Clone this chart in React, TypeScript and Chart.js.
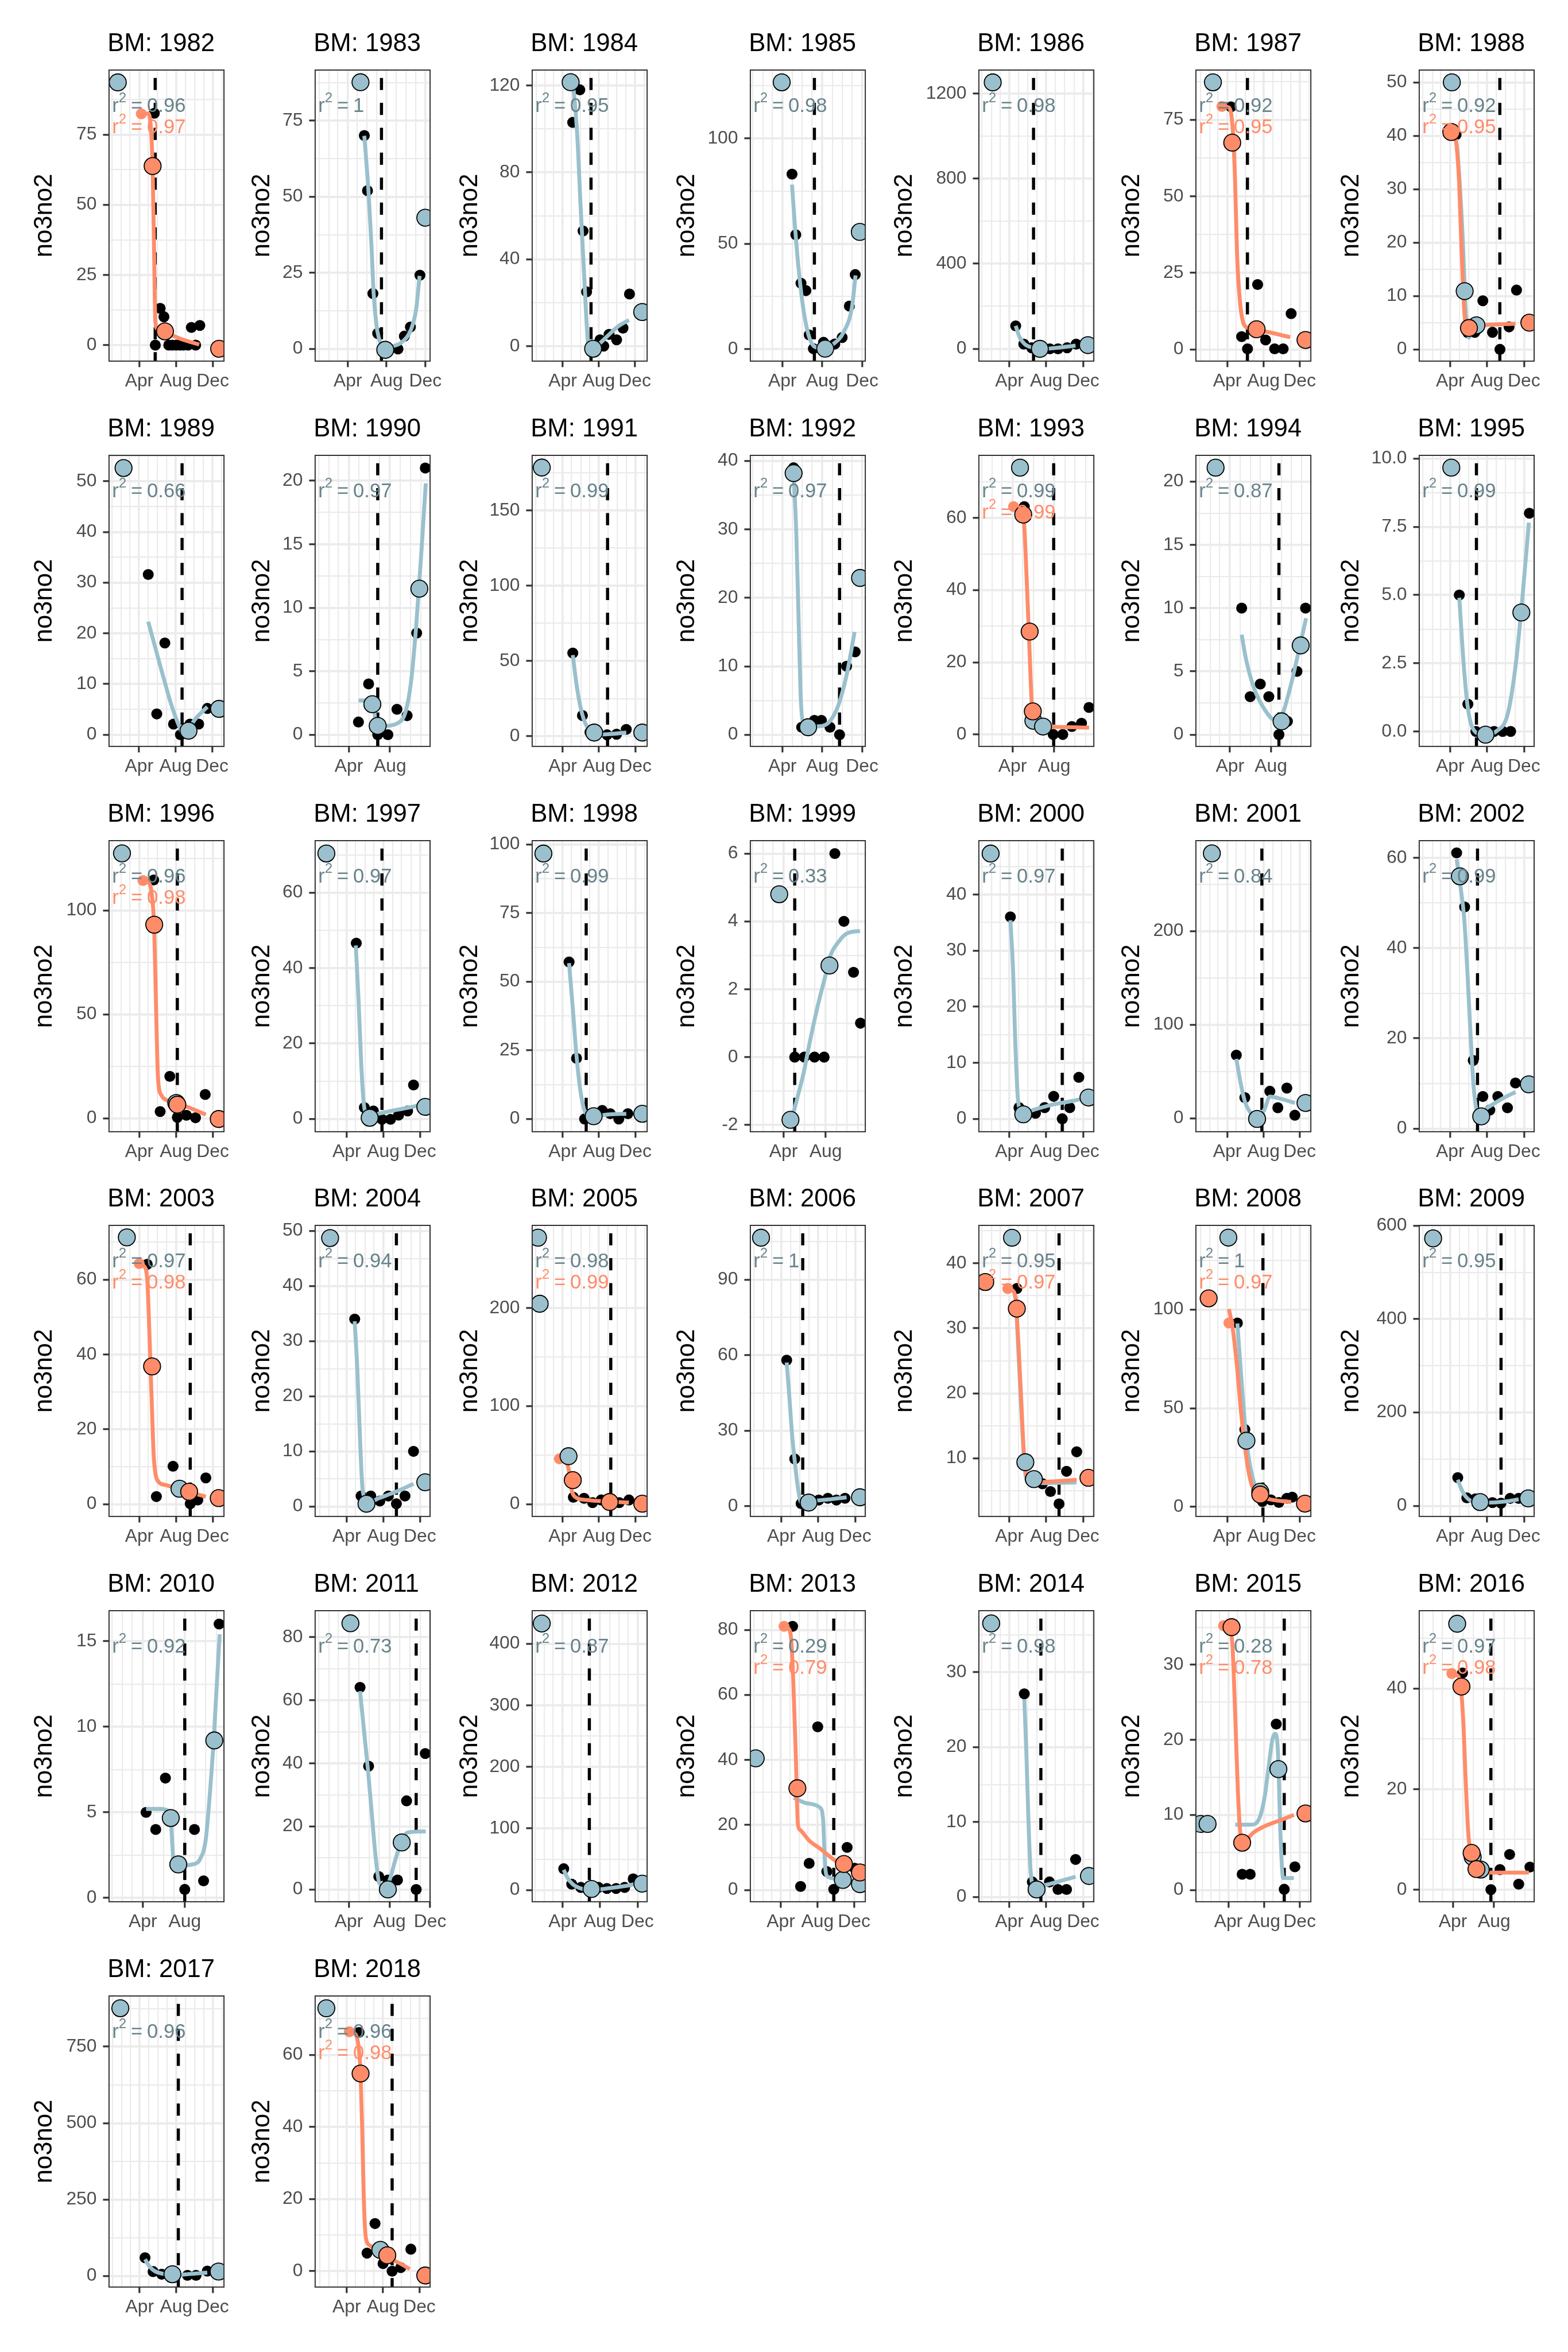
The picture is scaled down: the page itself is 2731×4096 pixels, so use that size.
import React, { useEffect, useRef } from "react";
import { Chart, registerables } from "chart.js";

Chart.register(...registerables);

const S = 0.91;
const FONT = "'Liberation Sans', Arial, Helvetica, sans-serif";
const BLUE = "#9AC0CD";
const BLUE_TEXT = "#68838B";
const ORANGE = "#FF8C69";
const GRID = "#EBEBEB";
const DARK = "#333333";
const TICK_TEXT = "#4D4D4D";

// ---------------- data ----------------
const YEARS = [1982, 1983, 1984, 1985, 1986, 1987, 1988, 1989, 1990, 1991, 1992, 1993, 1994, 1995, 1996, 1997, 1998, 1999, 2000, 2001, 2002, 2003, 2004, 2005, 2006, 2007, 2008, 2009, 2010, 2011, 2012, 2013, 2014, 2015, 2016, 2017, 2018];

const R2_BLUE = ["0.96", "1", "0.95", "0.98", "0.98", "0.92", "0.92", "0.66", "0.97", "0.99", "0.97", "0.99", "0.87", "0.99", "0.96", "0.97", "0.99", "0.33", "0.97", "0.84", "0.99", "0.97", "0.94", "0.98", "1", "0.95", "1", "0.95", "0.92", "0.73", "0.87", "0.29", "0.98", "0.28", "0.97", "0.96", "0.96"];
const R2_ORANGE = ["0.97", null, null, null, null, "0.95", "0.95", null, null, null, null, "0.99", null, null, "0.98", null, null, null, null, null, null, "0.98", null, "0.99", null, "0.97", "0.97", null, null, null, null, "0.79", null, "0.78", "0.98", null, "0.98"];

// day of year of the dashed line
const VLINE = [143, 196, 186, 188, 170, 158, 254, 233.5, 175.6, 240.7, 265, 210.4, 235.8, 176.6, 216.4, 207.5, 169, 122.4, 265, 206.6, 180.2, 259.2, 255.6, 251.5, 160.7, 254.4, 210.2, 258, 212, 292.2, 177.1, 266.3, 194.3, 281.2, 202.5, 219.2, 242.5];

const X_RANGE = [[-10, 371], [-12.7, 349], [-13, 375.6], [-8, 343.8], [-10.8, 369.4], [-15.8, 371.7], [-12.5, 367.6], [-10.5, 373.5], [-9.8, 330.8], [-12.3, 373.5], [-8, 343.8], [-8.5, 327.8], [-11.4, 330.8], [-12.5, 367.6], [-10, 371], [-15, 367.8], [-12.3, 373.5], [-5.8, 326.3], [-10.8, 369.4], [-15.8, 371.7], [-12.5, 367.6], [-10, 371], [-15, 367.8], [-12.3, 373.5], [-12.5, 367.6], [-10.8, 369.4], [-15.8, 371.7], [-12.5, 367.6], [-8.5, 326.2], [-11.1, 334], [-9.3, 365.4], [-11.5, 371.4], [-10.8, 369.4], [-21, 372.2], [-9.8, 330.8], [-12.3, 371.7], [-15.8, 369.9]];

const Y_RANGE = [[-5.7, 98], [-4.0, 91.6], [-6.9, 127.1], [-5.6, 132.3], [-57.6, 1310], [-3.8, 91.2], [-2.2, 52.3], [-2.3, 55.1], [-0.92, 22], [-6.7, 186.5], [-1.7, 40.8], [-3.3, 77.3], [-0.93, 22.07], [-0.55, 10.12], [-6.4, 133.5], [-3.4, 73.8], [-4.65, 101.4], [-2.2, 6.38], [-2.3, 49.6], [-14.2, 296.6], [-0.7, 63.8], [-3.3, 74.5], [-1.8, 51], [-12.5, 284.2], [-4.0, 111.5], [1.07, 45.8], [-4.9, 142.7], [-22.8, 600.6], [-0.22, 16.78], [-3.9, 88.4], [-19, 453.7], [-3.6, 85.9], [-0.64, 38.2], [-1.56, 37.2], [-2.4, 55.5], [-36.7, 916], [-4.4, 76.3]];

const Y_TICKS = [[0, 25, 50, 75], [0, 25, 50, 75], [0, 40, 80, 120], [0, 50, 100], [0, 400, 800, 1200], [0, 25, 50, 75], [0, 10, 20, 30, 40, 50], [0, 10, 20, 30, 40, 50], [0, 5, 10, 15, 20], [0, 50, 100, 150], [0, 10, 20, 30, 40], [0, 20, 40, 60], [0, 5, 10, 15, 20], [0, 2.5, 5, 7.5, 10], [0, 50, 100], [0, 20, 40, 60], [0, 25, 50, 75, 100], [-2, 0, 2, 4, 6], [0, 10, 20, 30, 40], [0, 100, 200], [0, 20, 40, 60], [0, 20, 40, 60], [0, 10, 20, 30, 40, 50], [0, 100, 200], [0, 30, 60, 90], [10, 20, 30, 40], [0, 50, 100], [0, 200, 400, 600], [0, 5, 10, 15], [0, 20, 40, 60, 80], [0, 100, 200, 300, 400], [0, 20, 40, 60, 80], [0, 10, 20, 30], [0, 10, 20, 30], [0, 20, 40], [0, 250, 500, 750], [0, 20, 40, 60]];

const MONTH_STARTS = [0, 31, 59, 90, 120, 151, 181, 212, 243, 273, 304, 334, 365];
const MONTH_LABELS: Record<number, string> = { 90: "Apr", 212: "Aug", 334: "Dec" };

// black observations [day, no3no2]
const BLACK = [
  [[140, 82.6], [159.5, 13.1], [172, 10.1], [143.4, 0], [188, 0], [200, 0], [213, 0], [225, 0], [236, 0], [252, 0], [277, 0], [263, 6.3], [291, 7.0]],
  [[142, 70.1], [152, 52], [169, 18.2], [184, 5.1], [208, 0], [248, 0], [268, 4.2], [287, 7.2], [317, 24.2]],
  [[148, 118], [124, 103], [159, 53], [171, 25], [216.5, 2.9], [229, 0], [247, 5.4], [272.5, 2.9], [294, 8.3], [316, 24]],
  [[119.5, 83], [131, 54.3], [147, 31.3], [162, 27.8], [172, 6.8], [185, 0.3], [216, 3.3], [250.5, 2.5], [273, 5.6], [295, 20.5], [313, 35.4]],
  [[111, 108], [138, 22.5], [164, 5], [194, 0], [224, 0], [251, 0], [281, 5], [311, 22.5]],
  [[102.6, 79.2], [138.4, 4.2], [158.2, 0.2], [192.3, 21.2], [219.2, 3.1], [249.7, 0.2], [278.4, 0.2], [305.3, 11.7]],
  [[109.4, 40.2], [148.3, 3.1], [171.3, 3.2], [197.8, 9.1], [229.7, 3.2], [254.4, 0], [284.5, 4.2], [309.2, 11.1]],
  [[120.5, 31.6], [149, 4.1], [176, 18.1], [205, 2.1], [228, 0], [260, 2.1], [289, 2.1], [318, 5.2]],
  [[118.5, 1.0], [148.6, 4.0], [175.6, 0], [205.7, 0], [232.6, 2.0], [262.7, 1.5], [291, 8.0], [316.6, 21.0]],
  [[124, 55.3], [156.4, 13.8], [181.5, 2.8], [239, 1], [271, 1.4], [303.5, 4.6]],
  [[124.4, 39], [149, 1.1], [188, 2.1], [209.5, 2.1], [235.7, 1.1], [265, 0], [286.5, 10], [312.7, 12.1]],
  [[124.4, 63.1], [151, 3.8], [209, 0], [237, 0], [263.6, 2.2], [291.8, 3.1], [313.7, 7.5]],
  [[124.9, 10], [150.2, 3.0], [180.3, 4.0], [205.7, 3.0], [235.8, 0], [261.1, 1.05], [289.6, 5], [315, 10]],
  [[120, 5.0], [148.3, 1.0], [174.8, 0], [235, 0], [263.3, 0], [289.8, 0], [351.7, 8.0]],
  [[138, 114.6], [159.5, 3.3], [191.5, 20.2], [216.4, 0.5], [246.5, 1.5], [276.7, 0.3], [308.8, 11.5]],
  [[122, 46.6], [148.8, 3.0], [179, 2.1], [207.5, -0.1], [236, -0.1], [262.8, 1.0], [293, 2.1], [312.6, 9.0]],
  [[111.5, 57.2], [136.6, 22.1], [163.6, 0], [222.8, 3.1], [249.7, 1.9], [278.4, 0], [308.9, 1.9]],
  [[122.4, 0], [150.2, 0], [179.6, 0], [207.4, 0], [238.3, 6.0], [264.5, 4.0], [292.3, 2.5], [312.4, 1.0]],
  [[93.5, 36], [121.8, 2.0], [176.6, 1.0], [206.7, 2.0], [236.7, 4.0], [265, 0], [289.8, 2.0], [319.8, 7.4]],
  [[120.5, 67.6], [149.2, 22.2], [233.5, 29], [260.4, 11.4], [290.8, 32.4], [317.8, 3.4]],
  [[111.2, 61.1], [137.7, 49.1], [166, 15.1], [197.8, 7.1], [220.8, 4.1], [247.4, 7.1], [279.2, 4.6], [305.7, 10.1]],
  [[116.7, 64.1], [147, 2.0], [202.2, 10.1], [259.2, 0.1], [284.1, 1.1], [310.9, 7.0]],
  [[116.7, 34], [138.1, 1.9], [170.1, 1.9], [200.4, 1], [228.9, 1.9], [255.6, 0.5], [284.1, 1.9], [312.6, 10]],
  [[125.9, 7.1], [161.8, 6], [190.5, 1.6], [219.2, 4.3], [251.5, 4.3], [280.2, 1.6], [312.5, 4.3]],
  [[107.7, 58], [134.2, 18.8], [155.4, 1.1], [213.8, 2.5], [243.8, 3.2], [272.1, 2.5], [300.4, 3.2]],
  [[114.8, 36.1], [199.6, 6.1], [226.1, 4.9], [254.4, 3.0], [279.2, 8.0], [312.8, 11]],
  [[124.1, 93.2], [149.2, 39.2], [208.4, 2.7], [237.1, 3.5], [264, 2.2], [290.8, 4.3], [308.9, 4.9]],
  [[114.8, 60.3], [144.8, 17], [173.1, 14.8], [229.7, 6.8], [258, 5.7], [288, 15.9], [316.3, 15.9]],
  [[99.4, 5.0], [127.5, 4.0], [155.7, 7.0], [212, 0.5], [240.2, 4.0], [266.8, 1.0], [312.1, 16.0]],
  [[123.7, 64.1], [149.4, 39.1], [179.9, 4.1], [207.2, 3.0], [236.1, 3.0], [263.4, 28.1], [292.2, 0], [319.5, 43.1]],
  [[93.5, 34.6], [119.6, 9.5], [149.3, 4.3], [206.8, 4.3], [234.4, 2.6], [264.3, 2.6], [292.1, 4.3], [320, 18.2]],
  [[129.2, 81.1], [155.9, 1.1], [184.4, 8.2], [212.9, 50.2], [243.2, 5.7], [266.3, 0.2], [310.8, 13.1], [335.8, 6.7]],
  [[139.5, 27.1], [166, 2.0], [222.6, 2.0], [250.9, 1.0], [279.2, 1.0], [309.2, 5.0]],
  [[137.3, 2.1], [164.7, 2.1], [253.9, 22.1], [281.2, 0.1], [317.6, 3.1]],
  [[118.5, 43.1], [202.5, 0], [229.4, 4.0], [258, 7.0], [284.9, 1.1], [318.2, 4.5]],
  [[107.9, 59.4], [134.9, 14], [163.6, 5.2], [249.7, 1.7], [278.4, 1.7], [316, 15.7]],
  [[131.3, 66.2], [158.2, 5], [185.1, 13.2], [212, 2.1], [242.5, 0], [271.2, 1.0], [305.3, 6.1]],
];

// large blue markers
const BLUE_BIG = [
  [[19, 93.6]],
  [[130, 87.6], [208, -0.3], [334, 43.1]],
  [[117, 121.5], [193, -1.2], [359, 15.7]],
  [[88, 126.5], [221, 0.3], [327, 55.6]],
  [[35, 1252], [191, 0], [350, 17.5]],
  [[41.6, 87.2]],
  [[95.3, 50], [137.7, 10.9], [176.6, 4.5]],
  [[38, 52.6], [255, 0.8], [357, 5.1]],
  [[159.7, 2.4], [175.6, 0.7], [299, 11.5]],
  [[20, 178.4], [195.8, 2.5], [357.3, 2.5]],
  [[124.4, 38.2], [168.8, 1.1], [327.7, 22.9]],
  [[111.9, 73.9], [151, 3.8], [179.2, 2.2]],
  [[47.2, 21.1], [243.7, 1.05], [300.7, 7.05]],
  [[93.5, 9.67], [206.7, -0.12], [325.2, 4.36]],
  [[33, 127.4], [212.9, 7.4]],
  [[22.3, 70.4], [166.6, 0.3], [351.8, 3.2]],
  [[25.4, 96.7], [194.1, 1.0], [357.3, 1.9]],
  [[77.6, 4.8], [110.1, -1.85], [222.8, 2.7]],
  [[28.1, 47.3], [136, 0.8], [351.7, 3.8]],
  [[38, 283], [190.5, -0.6], [353.7, 16.5]],
  [[121.8, 55.9], [192.5, 2.7], [349.9, 9.8]],
  [[49, 71.3], [223.6, 4.1]],
  [[34.8, 48.7], [155.9, 0.5], [351.8, 4.4]],
  [[7.3, 271.7], [12.9, 204.3], [109.7, 48.9]],
  [[22.8, 106.6], [180.2, 1.5], [349.9, 3.6]],
  [[98.8, 43.9], [143, 9.4], [171.3, 6.8]],
  [[93.6, 136.5], [154.6, 33.5], [201.2, 7.6]],
  [[33.4, 572.7], [189, 8], [348.1, 15.9]],
  [[171.3, 4.67], [193.2, 1.96], [298, 9.2]],
  [[94.8, 84.4], [207.2, 0], [248.9, 14.9]],
  [[22, 432.9], [184.1, 1.7], [349.7, 10.4]],
  [[6.3, 40.5], [296.6, 3.1], [353.6, 1.8]],
  [[29.9, 36.5], [180.2, 1.0], [353.4, 2.8]],
  [[-4.7, 8.8], [19, 8.8], [261.2, 16.1]],
  [[102.7, 52.9], [148.6, 6.5], [172.4, 4.0]],
  [[25.4, 875.9], [199.4, 5.2], [353.7, 14]],
  [[21.8, 72.9], [203, 5.9]],
];

// large orange markers
const ORANGE_BIG = [
  [[134.5, 63.8], [175.5, 4.9], [355, -1.3]], [], [], [], [],
  [[106.7, 67.5], [188.7, 6.6], [353.7, 3.1]],
  [[93.5, 40.7], [151.9, 4], [351.7, 5]], [], [], [], [],
  [[121.3, 60.9], [140.1, 28.5], [149.4, 6.4]], [], [],
  [[139.8, 93.1], [216.4, 6.6], [353.6, -0.3]], [], [], [], [], [], [],
  [[132.7, 36.8], [255.6, 3.3], [353.6, 1.6]], [],
  [[124, 24.5], [247.9, 2.2], [357.3, 0.5]], [],
  [[10.4, 37.1], [114.8, 33], [351.7, 7.0]],
  [[27.2, 105.7], [201.2, 6.2], [351.9, 1.6]], [], [], [], [],
  [[145.2, 31.3], [300.2, 8.0], [353.6, 5.4]], [],
  [[100.9, 35], [137.3, 6.3], [354, 10.2]],
  [[115.3, 40.4], [145.5, 7.3], [159.7, 4.1]], [],
  [[136.6, 54.8], [226.3, 4.4], [353.7, -1.2]],
];

// small orange start points
const ORANGE_DOT = [
  [[97, 82.4]], [], [], [], [], [[72, 79.3]], [], [], [], [], [], [[93.1, 63.1]], [], [], [[102.5, 114.3]], [], [], [], [], [], [], [[90, 64.3]], [], [[79.2, 46.2]], [], [[84.7, 36.1]], [[95.4, 93.2]], [], [], [], [], [[100.7, 81.1]], [], [[73.6, 35.2]], [[86.8, 43]], [], [[99, 66.4]],
];

// blue fitted curves
const BLUE_FIT = [
  [],
  [[142, 70], [155, 52], [164, 35], [171.5, 18], [180, 8], [188, 3.5], [200, 0.5], [209, -0.1], [230, 0.8], [261, 2.3], [289, 6.4], [305, 13], [316, 24]],
  [[126, 120], [139, 98], [151, 63.6], [164, 29.2], [175, 2.2], [182, -1.5], [206, 0.2], [242, 4.7], [278, 9.1], [314, 12]],
  [[119.5, 78], [128, 59.3], [137.5, 41.7], [152, 21.5], [168.6, 7.6], [188, 1.3], [213, 0.5], [246, 2.5], [278, 8.3], [303, 20], [314, 35]],
  [[111, 108], [124, 55], [141, 22.5], [168, 5], [194, 0], [247, 5], [309, 15]],
  [],
  [[97, 40.5], [111, 38.4], [129, 23.5], [143, 5.5], [152, 2.2], [164, 4], [254, 4.7]],
  [[120.5, 22.3], [142, 17.6], [169, 11.8], [196, 6.2], [223, 1.8], [235, 0.4], [258.6, 1.6], [282, 3.4], [318, 5.5]],
  [[118.5, 2.7], [147, 2.7], [163, 2.4], [171, 0.7], [195, 0.7], [234, 0.9], [258, 1.8], [274, 4.1], [290, 8.7], [305.5, 14.6], [318, 19.8]],
  [[124, 53.9], [138.4, 31.9], [156.4, 14.2], [178, 4.3], [205, 1.1], [240.7, 1.4], [303.5, 2.5]],
  [[124.4, 38.2], [132.6, 29.4], [139.2, 17.7], [145.7, 6], [154, 1.6], [180, 1.2], [213, 1.3], [237.5, 2.1], [262, 4.4], [286.5, 8.7], [311, 15]],
  [],
  [[124.9, 7.9], [137.5, 6], [161.3, 3.7], [193, 2], [221.5, 1.2], [240.5, 1.35], [264.3, 3.2], [288, 5.8], [316.6, 9.2]],
  [[120, 4.9], [132.4, 2.76], [146.6, 1.0], [164.3, 0.12], [199.6, -0.12], [243.8, 0.02], [279.2, 0.6], [305.7, 2.37], [327, 4.7], [350, 7.65]],
  [],
  [[120.3, 46], [129.2, 32.2], [138.1, 15.2], [147, 4], [161.2, 0.8], [196.8, 1.4], [250.3, 2.3], [303.7, 3.1], [351.8, 4]],
  [[111.5, 56.8], [124, 40.3], [136.6, 22.9], [150.9, 9.3], [169, 1.9], [194.1, 1.0], [240.7, 1.6], [303.5, 1.9]],
  [[110, -1.8], [119.3, -1.6], [133.2, -1.07], [148.7, -0.44], [164.1, 0.35], [187.3, 1.44], [210.5, 2.38], [225.9, 3.0], [249.1, 3.4], [272.2, 3.64], [310.9, 3.72]],
  [[93.5, 35.4], [102.4, 26.4], [109.4, 14], [118.3, 3.6], [132.4, 1.0], [176.6, 1.7], [229.7, 2.5], [300.4, 3.2], [351.7, 3.8]],
  [[120.5, 63.6], [134.9, 38], [149.2, 18.2], [170.7, 5.1], [194, 1.1], [215.6, 9.7], [233.5, 23.3], [269.4, 21], [317.8, 16.5]],
  [[111.2, 59.7], [123.6, 53.8], [136, 46.7], [146.6, 34.9], [157.2, 20.8], [167.8, 9], [182, 3.3], [217.3, 4.8], [261.5, 6.6], [305.7, 8.1]],
  [],
  [[116.7, 33.6], [125.6, 24.7], [134.5, 12.1], [143.4, 2.9], [161.2, 0.7], [196.8, 1.5], [250.3, 2.6], [312.6, 4.1]],
  [],
  [[107.7, 57.1], [116.5, 43.4], [125.4, 28.6], [134.2, 18], [144.8, 7.4], [155.4, 1.5], [190.8, 2.1], [243.8, 2.7], [305.7, 3.6]],
  [[111, 35], [130, 17], [140, 9], [150, 6.3], [200, 6.2], [312, 6.3]],
  [[124, 93], [140, 60], [155, 33], [175, 15], [200, 7], [230, 4]],
  [[114.8, 55.8], [128.9, 33], [146.6, 15.9], [173.1, 8], [217.3, 6.8], [270.3, 9.1], [316.3, 13.7]],
  [[99.4, 5.2], [140, 5.2], [163.5, 5.1], [171.3, 4.5], [180.7, 2.0], [202.6, 1.9], [233.9, 1.96], [257.4, 2.3], [273, 3.4], [285.5, 6.2], [296.5, 9.3], [305.9, 12.7], [313.7, 15.4]],
  [[123.7, 62.9], [136.5, 49.4], [147.8, 37.5], [159, 24], [170.3, 10.5], [181.5, 2.0], [196, 1.2], [212, 2.9], [228.1, 8.8], [247.4, 15.2], [268.3, 18.1], [321.2, 18.4]],
  [[93.5, 32.9], [105.7, 19.9], [123.1, 9.5], [149.3, 2.6], [184.1, 0], [236.2, 2.6], [288.5, 6.1], [340.9, 11.3]],
  [[132.7, 28.4], [175.5, 26.7], [220, 25.4], [230.7, 21.8], [237.8, 7.0], [246.7, 4.1], [282.3, 3.4], [296.6, 3.1]],
  [[139.5, 26.4], [146.6, 18.9], [153.6, 9.7], [160.7, 3.3], [171.3, 1.5], [194.3, 1.5], [229.7, 1.8], [265, 2.2], [309.2, 2.7]],
  [[113.7, 8.7], [168.3, 8.7], [195.6, 9.5], [213.8, 12.3], [228.4, 16.6], [241.1, 20.1], [250.2, 20.8], [259.3, 18.7], [268.4, 7.3], [277.5, 1.6], [314, 1.6]],
  [],
  [[107.9, 54.2], [122.3, 31.5], [140.2, 15.7], [167.1, 7], [203, 1.7], [247.9, 5.2], [316, 10.5]],
  [],
];

// orange fitted curves
const ORANGE_FIT = [
  [[92, 82.4], [120, 82.5], [129, 77], [134.5, 63], [139, 36], [143.5, 8.5], [150.5, 5.7], [175.5, 4.6], [231, 2.1], [289, 0.2]],
  [], [], [], [],
  [[72, 79.3], [95, 79], [103, 77], [109, 71], [116, 56], [123, 31], [133.6, 14.8], [143, 9], [154, 7.3], [187, 6.5], [250, 5.2], [302, 4]],
  [[93.5, 40.7], [107.7, 39.4], [118.3, 32.4], [127, 19.5], [136, 7.5], [143, 4.5], [152, 4.3], [217, 4.6], [306, 4.8]],
  [], [], [], [],
  [[93, 63.1], [112, 62.4], [123, 59.4], [131, 43.9], [138.5, 26.2], [146.3, 8.4], [152.6, 2.2], [204, 2.1], [314, 1.9]],
  [], [],
  [[102.5, 114.3], [120.3, 113.6], [132.7, 106.6], [139.8, 91.3], [145.2, 58], [152.3, 19.7], [163, 11.3], [195, 8.2], [248.3, 5.6], [310.6, 1.8]],
  [], [], [], [], [], [],
  [[90, 64.3], [106, 63.6], [116.7, 60], [123.8, 45.7], [131, 28.6], [138.1, 13], [148.8, 6.6], [177.3, 5.1], [230.7, 3.7], [310.9, 2]],
  [],
  [[79.2, 46.2], [100.8, 44], [111.5, 33.2], [120.5, 14.1], [133.1, 7.1], [169, 4.3], [240.7, 2.7], [312.5, 1.6]],
  [],
  [[84.7, 36.1], [100.6, 35.8], [111.2, 34.2], [120.1, 27.6], [128.9, 19.4], [137.7, 11.2], [150.1, 6.7], [176.6, 6.3], [247.4, 6.5], [312.8, 6.7]],
  [[95.4, 100.3], [108, 90.8], [122.3, 71.9], [136.7, 47.6], [151, 28.6], [165.4, 15.1], [179.7, 8.4], [197.6, 5.7], [233.5, 3.8], [305.3, 2.4]],
  [], [], [], [],
  [[100.7, 81.1], [114.9, 80.5], [125.6, 75.9], [132.7, 61.1], [139.8, 41.5], [147, 20.2], [154.1, 18.5], [184.4, 15.2], [220, 12.8], [264.5, 9.5], [291.2, 7.9]],
  [],
  [[73.6, 35.2], [95.5, 34.9], [104.6, 32.2], [113.7, 23], [122.8, 13], [132, 7.3], [141, 6.5], [177.4, 7.7], [213.8, 8.5], [268.4, 9.3], [314, 10]],
  [[86.8, 43], [101.1, 42.7], [110.6, 41.6], [120.1, 34.2], [128, 21.4], [136, 10.8], [143.9, 6.6], [153.4, 3.6], [196.2, 3.4], [315, 3.4]],
  [],
  [[99, 66.4], [116.9, 65.9], [129.5, 62.5], [136.6, 54.8], [142, 39.6], [147.4, 20.3], [154.5, 9.2], [170.7, 7], [215.5, 4], [260.4, 2.5], [301.7, 0.6]],
];

// ---------------- layout (reference pixels) ----------------
const COL_LEFT = [209, 603, 1019, 1436, 1873, 2289, 2716];
const YTITLE_OFF = [127, 105, 123, 125, 146, 126, 134];
const ROW_TOP0 = 134;
const ROW_PITCH = 737.2;
const PW = 220;
const PH = 557;
const PAD_L = 190;
const PAD_R = 50;
const PAD_T = 100;
const PAD_B = 80;

const xy = (a: number[][]) => a.map(([x, y]) => ({ x, y }));

function buildConfig(i: number, W: number, H: number) {
  const col = i % 7;
  const [x0, x1] = X_RANGE[i];
  const [y0, y1] = Y_RANGE[i];
  const majors = Y_TICKS[i];
  const step = majors[1] - majors[0];
  const cand = [...majors, majors[0] - step / 2, ...majors.map((v) => v + step / 2)];
  const yTicks = cand.filter((v) => v >= y0 && v <= y1).sort((a, b) => a - b);
  const isMajY = (v: any) => v !== undefined && majors.some((m) => Math.abs(m - v) < 1e-9);
  const dec = majors.some((m) => !Number.isInteger(m)) ? 1 : 0;
  const xTicks = MONTH_STARTS.filter((v) => v >= x0 && v <= x1);
  const isMajX = (v: any) => v !== undefined && MONTH_LABELS[v] !== undefined;

  const padR = W - PAD_L * S - PW * S;
  const xH = H - PAD_T * S - PH * S;

  const MAJ = 4.0 * S;
  const MIN = 2.4 * S;

  const pts = (data: number[][], r: number, bg: string, bw: number, order: number) => ({
    type: "scatter",
    data: xy(data),
    pointRadius: r,
    pointHoverRadius: r,
    backgroundColor: bg,
    borderColor: "#000000",
    borderWidth: bw,
    pointStyle: "circle",
    showLine: false,
    order,
    clip: 0,
  });
  const line = (data: number[][], color: string, order: number) => ({
    type: "line",
    data: xy(data),
    borderColor: color,
    backgroundColor: color,
    borderWidth: 7.5 * S,
    pointRadius: 0,
    pointHoverRadius: 0,
    cubicInterpolationMode: "monotone",
    fill: false,
    order,
    clip: 0,
  });

  const deco = {
    id: "deco" + i,
    beforeDatasetsDraw(chart: any) {
      const { ctx, chartArea: a, scales } = chart;
      const px = scales.x.getPixelForValue(VLINE[i]);
      ctx.save();
      ctx.beginPath();
      ctx.rect(a.left, a.top, a.right - a.left, a.bottom - a.top);
      ctx.clip();
      ctx.strokeStyle = "#000000";
      ctx.lineWidth = 6 * S;
      ctx.setLineDash([23.3 * S, 24.4 * S]);
      ctx.beginPath();
      ctx.moveTo(px, a.top + 15 * S);
      ctx.lineTo(px, a.bottom);
      ctx.stroke();
      ctx.restore();
    },
    afterDatasetsDraw(chart: any) {
      const { ctx, chartArea: a } = chart;
      const F = 38 * S;
      const draw = (val: string, yb: number, color: string) => {
        ctx.save();
        ctx.fillStyle = color;
        ctx.textAlign = "left";
        ctx.textBaseline = "alphabetic";
        let x = a.left + 6 * S;
        ctx.font = `${F}px ${FONT}`;
        ctx.fillText("r", x, yb);
        x += ctx.measureText("r").width;
        ctx.font = `${F * 0.7}px ${FONT}`;
        ctx.fillText("2", x, yb - F * 0.5);
        x += ctx.measureText("2").width + F * 0.22;
        ctx.font = `${F}px ${FONT}`;
        ctx.fillText("=", x, yb);
        x += ctx.measureText("=").width + F * 0.23;
        ctx.fillText(val, x, yb);
        ctx.restore();
      };
      draw(R2_BLUE[i], a.top + 80 * S, BLUE_TEXT);
      const o = R2_ORANGE[i];
      if (o) draw(o, a.top + 121 * S, ORANGE);
    },
    afterDraw(chart: any) {
      const { ctx, chartArea: a } = chart;
      ctx.save();
      ctx.strokeStyle = DARK;
      ctx.lineWidth = 2.2 * S;
      ctx.strokeRect(a.left, a.top, a.right - a.left, a.bottom - a.top);
      ctx.fillStyle = "#000000";
      ctx.textAlign = "left";
      ctx.textBaseline = "alphabetic";
      const TF = 48 * S;
      ctx.font = `${TF}px ${FONT}`;
      ctx.fillText("BM: " + YEARS[i], a.left - 3 * S, a.top - 36 * S);
      const cx = a.left - YTITLE_OFF[col] * S + 0.36 * TF;
      const cy = (a.top + a.bottom) / 2;
      ctx.translate(cx, cy);
      ctx.rotate(-Math.PI / 2);
      ctx.textAlign = "center";
      ctx.fillText("no3no2", 0, 0);
      ctx.restore();
    },
  };

  return {
    type: "scatter",
    data: {
      datasets: [
        pts(ORANGE_BIG[i], 16.2 * S, ORANGE, 2 * S, 1),
        pts(BLUE_BIG[i], 16.2 * S, BLUE, 2 * S, 2),
        pts(ORANGE_DOT[i], 10.5 * S, ORANGE, 0, 3),
        line(ORANGE_FIT[i], ORANGE, 4),
        line(BLUE_FIT[i], BLUE, 5),
        pts(BLACK[i], 10.5 * S, "#000000", 0, 6),
      ],
    },
    options: {
      responsive: false,
      maintainAspectRatio: false,
      animation: false,
      devicePixelRatio: 1,
      events: [],
      layout: { padding: { left: 0, right: padR, top: PAD_T * S, bottom: 0 } },
      plugins: { legend: { display: false }, tooltip: { enabled: false }, title: { display: false } },
      scales: {
        x: {
          type: "linear",
          position: "bottom",
          min: x0,
          max: x1,
          bounds: "data",
          afterBuildTicks: (sc: any) => {
            sc.ticks = xTicks.map((v) => ({ value: v }));
          },
          afterFit: (sc: any) => {
            sc.height = xH;
          },
          ticks: {
            autoSkip: false,
            maxRotation: 0,
            minRotation: 0,
            padding: 6 * S,
            color: TICK_TEXT,
            font: { family: FONT, size: 35 * S },
            callback: (v: any) => MONTH_LABELS[v] ?? "",
          },
          grid: {
            color: GRID,
            lineWidth: (c: any) => (isMajX(c.tick && c.tick.value) ? MAJ : MIN),
            drawTicks: true,
            tickLength: 11.5 * S,
            tickWidth: 3.5 * S,
            tickColor: (c: any) => (isMajX(c.tick && c.tick.value) ? DARK : "rgba(0,0,0,0)"),
            offset: false,
          },
          border: { display: false },
        },
        y: {
          type: "linear",
          position: "left",
          min: y0,
          max: y1,
          bounds: "data",
          afterBuildTicks: (sc: any) => {
            sc.ticks = yTicks.map((v) => ({ value: v }));
          },
          afterFit: (sc: any) => {
            sc.width = PAD_L * S;
          },
          ticks: {
            autoSkip: false,
            padding: 12 * S,
            color: TICK_TEXT,
            font: { family: FONT, size: 35 * S },
            callback: (v: any) => (isMajY(v) ? Number(v).toFixed(dec) : ""),
          },
          grid: {
            color: GRID,
            lineWidth: (c: any) => (isMajY(c.tick && c.tick.value) ? MAJ : MIN),
            drawTicks: true,
            tickLength: 11.5 * S,
            tickWidth: 3.5 * S,
            tickColor: (c: any) => (isMajY(c.tick && c.tick.value) ? DARK : "rgba(0,0,0,0)"),
            offset: false,
          },
          border: { display: false },
        },
      },
    },
    plugins: [deco],
  };
}

function Panel({ i }: { i: number }) {
  const ref = useRef<HTMLCanvasElement | null>(null);
  const row = Math.floor(i / 7);
  const col = i % 7;
  const W = Math.round((PAD_L + PW + PAD_R) * S);
  const H = Math.round((PAD_T + PH + PAD_B) * S);
  const left = Math.round((COL_LEFT[col] - PAD_L) * S);
  const top = Math.round((ROW_TOP0 + ROW_PITCH * row - PAD_T) * S);

  useEffect(() => {
    if (!ref.current) return;
    const chart = new Chart(ref.current, buildConfig(i, W, H) as any);
    return () => chart.destroy();
  }, [i]);

  return (
    <canvas
      ref={ref}
      width={W}
      height={H}
      style={{ position: "absolute", left, top, width: W, height: H }}
    />
  );
}

export default function App() {
  useEffect(() => {
    document.body.style.margin = "0";
  }, []);
  return (
    <div
      style={{
        position: "absolute",
        left: 0,
        top: 0,
        width: 2731,
        height: 4096,
        background: "#ffffff",
        overflow: "hidden",
      }}
    >
      {YEARS.map((y, i) => (
        <Panel key={y} i={i} />
      ))}
    </div>
  );
}
